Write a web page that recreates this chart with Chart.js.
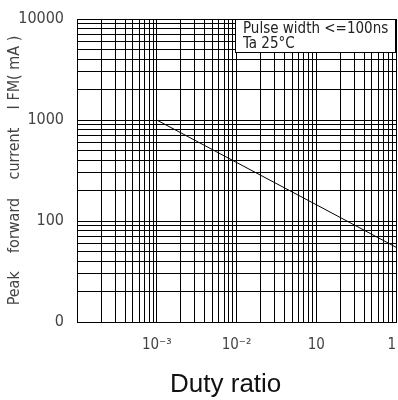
<!DOCTYPE html>
<html>
<head>
<meta charset="utf-8">
<script src="https://cdn.jsdelivr.net/npm/chart.js@4/dist/chart.umd.min.js"></script>
<style>
  html, body { margin:0; padding:0; background:#fff; }
  #wrap { width:398px; height:400px; }
</style>
</head>
<body>
<div id="wrap"><canvas id="grafico"></canvas></div>
<script>
// datos
var dutyRatio = [0.001, 0.01, 0.1, 1];
var peakCurrent = [1000, 380, 145, 55];

// etiquetas de los ejes
var xTickValues = [0.001, 0.01, 0.1, 1];
var xTickLabels = ["10\u207B\u00B3", "10\u207B\u00B2", "10", "1  "];
var yTickValues = [10, 100, 1000, 10000];
var yTickLabels = ["0", "100", "1000", "10000"];

var leyenda = ["Pulse width <=100ns", "Ta 25\u00B0C"];

var fuenteFina = "'Liberation Sans Narrow', 'DejaVu Sans Condensed', sans-serif";

// lineas de grilla 1..9 por decada
function grillaLog(min, max){
	var t = [];
	for(var e = Math.round(Math.log10(min)); e < Math.round(Math.log10(max)); e++){
		for(var m = 1; m < 10; m++){
			t.push({value: Number((m * Math.pow(10, e)).toPrecision(3))});
		}
	}
	t.push({value: max});
	return t;
}

function etiqueta(valores, textos, v){
	for(var i = 0; i < valores.length; i++){
		if(Math.abs(valores[i] - v) / valores[i] < 1e-6) return textos[i];
	}
	return "";
}

// cuadro de texto arriba a la derecha
var cuadro = {
	id: "cuadro",
	afterDraw: function(chart){
		var ctx = chart.ctx, a = chart.chartArea;
		var x0 = a.right - 161, y0 = a.top, w = 161, h = 34;
		ctx.save();
		ctx.fillStyle = "#fff";
		ctx.fillRect(x0, y0, w, h);
		ctx.strokeStyle = "#000";
		ctx.lineWidth = 1;
		ctx.strokeRect(x0 + 0.5, y0 + 0.5, w - 1, h - 1);
		ctx.fillStyle = "#222";
		ctx.font = "15px " + fuenteFina;
		ctx.textBaseline = "middle";
		ctx.fillText(leyenda[0], x0 + 8, y0 + 10);
		ctx.fillText(leyenda[1], x0 + 8, y0 + 25);
		ctx.restore();
	}
};

new Chart(document.getElementById("grafico"), {
	type: 'line',
	data: {
		datasets: [{
			data: dutyRatio.map(function(d, i){ return {x: d, y: peakCurrent[i]}; }),
			borderColor: "#000",
			borderWidth: 1,
			pointRadius: 0,
			fill: false,
			tension: 0
		}]
	},
	options: {
		responsive: true,
		maintainAspectRatio: false,
		animation: false,
		layout: { padding: { top: 19, right: 2, left: 0, bottom: 0 } },
		plugins: { legend: { display: false }, tooltip: { enabled: false } },
		scales: {
			x: {
				type: 'logarithmic',
				min: 0.0001,
				max: 1,
				afterBuildTicks: function(s){ s.ticks = grillaLog(0.0001, 1); },
				afterFit: function(s){ s.height = 78; s.paddingLeft = 0; s.paddingRight = 0; },
				grid: { color: "#000", lineWidth: 1, drawTicks: false },
				border: { color: "#000", width: 1 },
				ticks: {
					autoSkip: false, maxRotation: 0, padding: 14,
					color: "#444",
					font: { family: fuenteFina, size: 15 },
					callback: function(v){ return etiqueta(xTickValues, xTickLabels, v); }
				},
				title: {
					display: true,
					text: "Duty ratio   ",
					color: "#111",
					font: { family: "'Liberation Sans', Arial, sans-serif", size: 26 },
					padding: { top: 0, bottom: 0 }
				}
			},
			y: {
				type: 'logarithmic',
				min: 10,
				max: 10000,
				afterBuildTicks: function(s){ s.ticks = grillaLog(10, 10000); },
				afterFit: function(s){ s.width = 77; s.paddingTop = 0; s.paddingBottom = 0; },
				grid: { color: "#000", lineWidth: 1, drawTicks: false },
				border: { color: "#000", width: 1 },
				ticks: {
					autoSkip: false, padding: 13,
					color: "#444",
					font: { family: fuenteFina, size: 16 },
					callback: function(v){ return etiqueta(yTickValues, yTickLabels, v); }
				},
				title: {
					display: true,
					text: "Peak    forward    current    I FM( mA )",
					color: "#444",
					font: { family: fuenteFina, size: 16 },
					padding: { top: 5, bottom: 0 }
				}
			}
		}
	},
	plugins: [cuadro]
});
</script>
</body>
</html>
